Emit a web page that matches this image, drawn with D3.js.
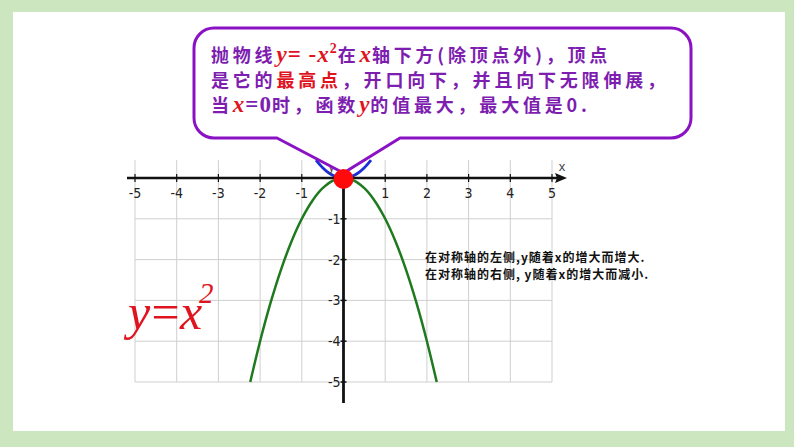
<!DOCTYPE html>
<html><head><meta charset="utf-8">
<script src="https://cdn.jsdelivr.net/npm/d3@7"></script>
<style>html,body{margin:0;padding:0;background:#cce6bf;}svg{display:block}</style>
</head><body>
<svg id="c" width="794" height="447"></svg>
<script>
// ---- data ----
const xTicks = [-5,-4,-3,-2,-1,0,1,2,3,4,5];
const yTicks = [-1,-2,-3,-4,-5];
const xTickLabels = ["-5","-4","-3","-2","-1","","1","2","3","4","5"];
const yTickLabels = ["-1","-2","-3","-4","-5"];
// sampled points of y = -x^2 as drawn (green)
const downX = [-2.236,-2,-1.75,-1.5,-1.25,-1,-0.75,-0.5,-0.25,0,0.25,0.5,0.75,1,1.25,1.5,1.75,2,2.236];
const downY = [-5,-4,-3.0625,-2.25,-1.5625,-1,-0.5625,-0.25,-0.0625,0,-0.0625,-0.25,-0.5625,-1,-1.5625,-2.25,-3.0625,-4,-5];
// sampled points of y = x^2 (blue, partly hidden)
const upX = [-0.66,-0.5,-0.35,-0.2,0,0.2,0.35,0.5,0.66];
const upY = [0.4356,0.25,0.1225,0.04,0,0.04,0.1225,0.25,0.4356];
const vertex = [0,0];
const bubbleLines = [
  [{t:"抛物线",c:"p"},{t:"y",c:"r",m:1},{t:"= -",c:"r",m:1},{t:"x",c:"r",m:1},{t:"2",c:"r",m:1,sup:1},{t:"在",c:"p"},{t:"x",c:"r",m:1},{t:"轴下方(除顶点外)，顶点",c:"p"}],
  [{t:"是它的",c:"p"},{t:"最高点",c:"r"},{t:"，开口向下，并且向下无限伸展，",c:"p"}],
  [{t:"当",c:"p"},{t:"x",c:"r",m:1},{t:"=0",c:"p",m:1},{t:"时，函数",c:"p"},{t:"y",c:"r",m:1},{t:"的值最大，最大值是0.",c:"p"}]
];
const noteLines = ["在对称轴的左侧,y随着x的增大而增大.","在对称轴的右侧, y随着x的增大而减小."];

// ---- drawing ----
const svg = d3.select("#c");
svg.append("rect").attr("x",13).attr("y",12).attr("width",772).attr("height",419).attr("fill","#fff");

const x = d3.scaleLinear().domain([-5,5]).range([135,552]);
const y = d3.scaleLinear().domain([0,-5]).range([178,382]);

const g = svg.append("g");
// grid
g.selectAll(".vg").data(xTicks.filter(d=>d!==0)).join("line")
  .attr("x1",d=>x(d)).attr("x2",d=>x(d)).attr("y1",160).attr("y2",y(-5))
  .attr("stroke","#cfcfcf").attr("stroke-width",1);
g.selectAll(".hg").data(yTicks).join("line")
  .attr("x1",x(-5)).attr("x2",x(5)).attr("y1",d=>y(d)).attr("y2",d=>y(d))
  .attr("stroke","#cfcfcf").attr("stroke-width",1);

const line = d3.line().x(d=>x(d[0])).y(d=>y(d[1])).curve(d3.curveCatmullRom);
// blue y=x^2
g.append("path").datum(upX.map((v,i)=>[v,upY[i]])).attr("d",line)
  .attr("fill","none").attr("stroke","#1a2fd6").attr("stroke-width",2.8);

// x axis
const ax = g.append("g").attr("transform",`translate(0,${y(0)})`);
ax.append("line").attr("x1",127).attr("x2",560).attr("y1",0).attr("y2",0).attr("stroke","#111").attr("stroke-width",2.5);
ax.append("path").attr("d","M567,0 L555,-5 L557,0 L555,5 Z").attr("fill","#111");
ax.selectAll(".xt").data(xTicks.filter(d=>d!==0)).join("line")
  .attr("x1",d=>x(d)).attr("x2",d=>x(d)).attr("y1",-4).attr("y2",4).attr("stroke","#111").attr("stroke-width",1.2);
ax.selectAll(".xl").data(xTicks).join("text")
  .attr("x",d=>x(d)).attr("y",20).attr("text-anchor","middle")
  .attr("font-family","'Liberation Sans Narrow','DejaVu Sans Condensed',sans-serif").attr("font-size",14).attr("fill","#222")
  .text((d,i)=>xTickLabels[i]);
ax.append("text").attr("x",562).attr("y",-7).attr("text-anchor","middle")
  .attr("font-family","'Liberation Sans Narrow',sans-serif").attr("font-size",13).attr("fill","#444").text("x");

// y axis
const ay = g.append("g").attr("transform",`translate(${x(0)},0)`);
ay.append("line").attr("x1",0).attr("x2",0).attr("y1",160).attr("y2",403).attr("stroke","#111").attr("stroke-width",2.8);
ay.selectAll(".yt").data(yTicks).join("line")
  .attr("x1",-3).attr("x2",3).attr("y1",d=>y(d)).attr("y2",d=>y(d)).attr("stroke","#111").attr("stroke-width",1.5);
ay.selectAll(".yl").data(yTicks).join("text")
  .attr("x",-3).attr("y",d=>y(d)+5).attr("text-anchor","end")
  .attr("font-family","'Liberation Sans Narrow','DejaVu Sans Condensed',sans-serif").attr("font-size",14).attr("fill","#222")
  .text((d,i)=>yTickLabels[i]);
ay.append("text").attr("x",-12).attr("y",171).attr("text-anchor","middle")
  .attr("font-family","'Liberation Sans Narrow',sans-serif").attr("font-size",12).attr("fill","#444").text("y");

// green y=-x^2
g.append("path").datum(downX.map((v,i)=>[v,downY[i]])).attr("d",line)
  .attr("fill","none").attr("stroke","#1f7a1f").attr("stroke-width",2.5);

// callout bubble
const bx0=194,by0=28,bx1=691,by1=138,r=20, tipX=x(vertex[0]), tipY=y(vertex[1])-5;
const p = d3.path();
p.moveTo(bx0+r,by0);
p.lineTo(bx1-r,by0); p.arcTo(bx1,by0,bx1,by0+r,r);
p.lineTo(bx1,by1-r); p.arcTo(bx1,by1,bx1-r,by1,r);
p.lineTo(400,by1); p.lineTo(tipX,tipY); p.lineTo(277,by1);
p.lineTo(bx0+r,by1); p.arcTo(bx0,by1,bx0,by1-r,r);
p.lineTo(bx0,by0+r); p.arcTo(bx0,by0,bx0+r,by0,r);
p.closePath();
svg.append("path").attr("d",p.toString()).attr("fill","#fff").attr("stroke","#8a12c4").attr("stroke-width",3).attr("stroke-linejoin","round");

const colors = {p:"#7d1eb0", r:"#e0141e"};
bubbleLines.forEach((ln,i)=>{
  const t = svg.append("text").attr("x",211).attr("y",62+i*25)
    .attr("font-family","'Noto Sans CJK SC',sans-serif").attr("font-size",18).attr("font-weight",700)
    .attr("letter-spacing",3.8);
  ln.forEach((s,j)=>{
    const ts = t.append("tspan").text(s.t).attr("fill",colors[s.c]);
    if(s.m){ ts.attr("font-family","'Liberation Serif',serif").attr("font-weight",700)
      .attr("font-style", /[xy]/.test(s.t)?"italic":"normal").attr("font-size",23).attr("letter-spacing",1); }
    if(s.sup){ ts.attr("font-size",14).attr("dy",-9).attr("font-style","normal"); }
    if(j>0 && ln[j-1].sup) ts.attr("dy",9);
  });
});

// note text
svg.selectAll(".note").data(noteLines).join("text")
  .attr("x",425).attr("y",(d,i)=>262+i*16.5)
  .attr("font-family","'Noto Sans CJK SC',serif").attr("font-size",12).attr("font-weight",700).attr("fill","#111")
  .attr("letter-spacing",1.0)
  .text(d=>d);

// y=x^2 label
svg.append("text").attr("x",128).attr("y",329)
  .attr("font-family","'Liberation Serif',serif").attr("font-style","italic").attr("font-size",50).attr("fill","#e0141e")
  .attr("letter-spacing",-2).text("y=x");
svg.append("text").attr("x",199).attr("y",303)
  .attr("font-family","'Liberation Serif',serif").attr("font-style","italic").attr("font-size",29).attr("fill","#e0141e")
  .text("2");

// vertex dot
svg.append("circle").attr("cx",x(vertex[0])).attr("cy",y(vertex[1])+1).attr("r",10).attr("fill","#ff0a0a");
</script>
</body></html>
